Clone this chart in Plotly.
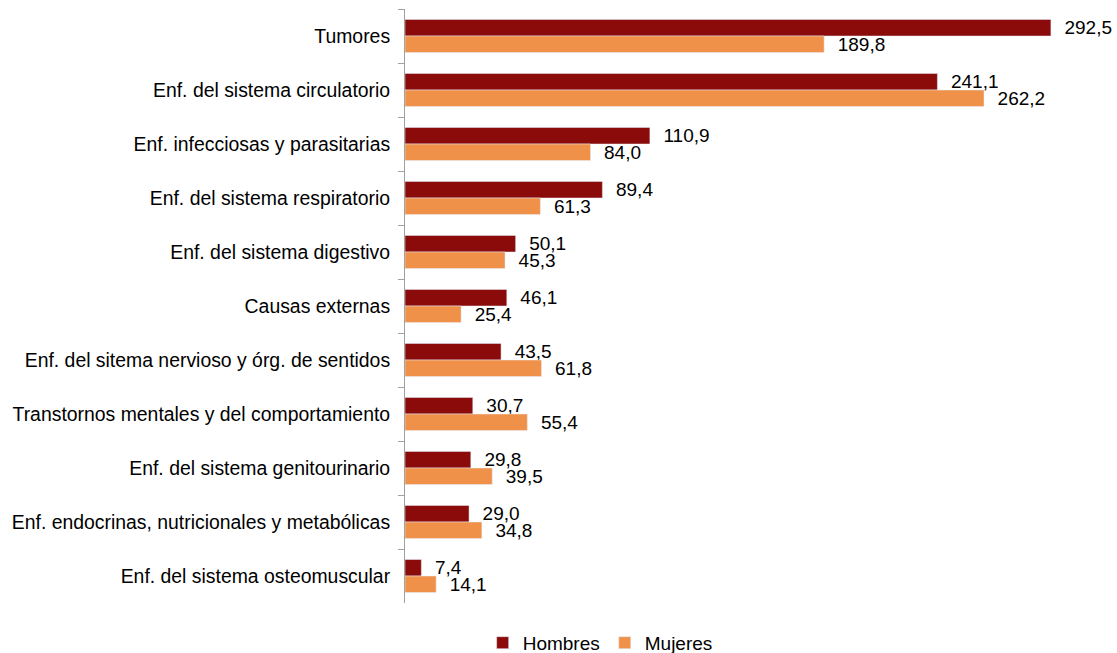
import plotly.graph_objects as go

categorias = [
    "Tumores",
    "Enf. del sistema circulatorio",
    "Enf. infecciosas y parasitarias",
    "Enf. del sistema respiratorio",
    "Enf. del sistema digestivo",
    "Causas externas",
    "Enf. del sitema nervioso y órg. de sentidos",
    "Transtornos mentales y del comportamiento",
    "Enf. del sistema genitourinario",
    "Enf. endocrinas, nutricionales y metabólicas",
    "Enf. del sistema osteomuscular",
]
hombres = [292.5, 241.1, 110.9, 89.4, 50.1, 46.1, 43.5, 30.7, 29.8, 29.0, 7.4]
mujeres = [189.8, 262.2, 84.0, 61.3, 45.3, 25.4, 61.8, 55.4, 39.5, 34.8, 14.1]

FONT = "Arial, Liberation Sans, sans-serif"

fig = go.Figure()
fig.add_trace(go.Bar(
    name="Hombres", y=categorias, x=hombres, orientation="h",
    marker=dict(color="#8B0A0A"),
    texttemplate="\u00a0\u00a0%{x:.1f}", textposition="outside",
    textfont=dict(family=FONT, size=19, color="#000000"),
    constraintext="none", cliponaxis=False,
))
fig.add_trace(go.Bar(
    name="Mujeres", y=categorias, x=mujeres, orientation="h",
    marker=dict(color="#F0914A"),
    texttemplate="\u00a0\u00a0%{x:.1f}", textposition="outside",
    textfont=dict(family=FONT, size=19, color="#000000"),
    constraintext="none", cliponaxis=False,
))

fig.update_layout(
    width=1117, height=653,
    barmode="group", bargap=0.39, bargroupgap=0,
    separators=",.",
    paper_bgcolor="white", plot_bgcolor="white",
    margin=dict(l=405, r=10, t=9, b=50, autoexpand=False),
    font=dict(family=FONT, size=19.4, color="#000000"),
    showlegend=True,
    legend=dict(orientation="h", x=0.278, xanchor="center", y=-0.067, yanchor="middle",
                font=dict(family=FONT, size=19), traceorder="normal"),
    xaxis=dict(range=[0, 317.9], showgrid=False, zeroline=False, showticklabels=False,
               showline=False, ticks=""),
    yaxis=dict(autorange="reversed", showline=True, linecolor="#A0A0A0", linewidth=1,
               ticks="outside", tickson="boundaries", ticklen=6, tickcolor="#A0A0A0",
               ticklabelstandoff=10,
               showgrid=False, tickfont=dict(family=FONT, size=19.4), automargin=False),
)

fig.write_html(
    "out.html",
    config={"displayModeBar": False},
    post_script="document.body.style.margin='0';document.body.style.overflow='hidden';",
)
